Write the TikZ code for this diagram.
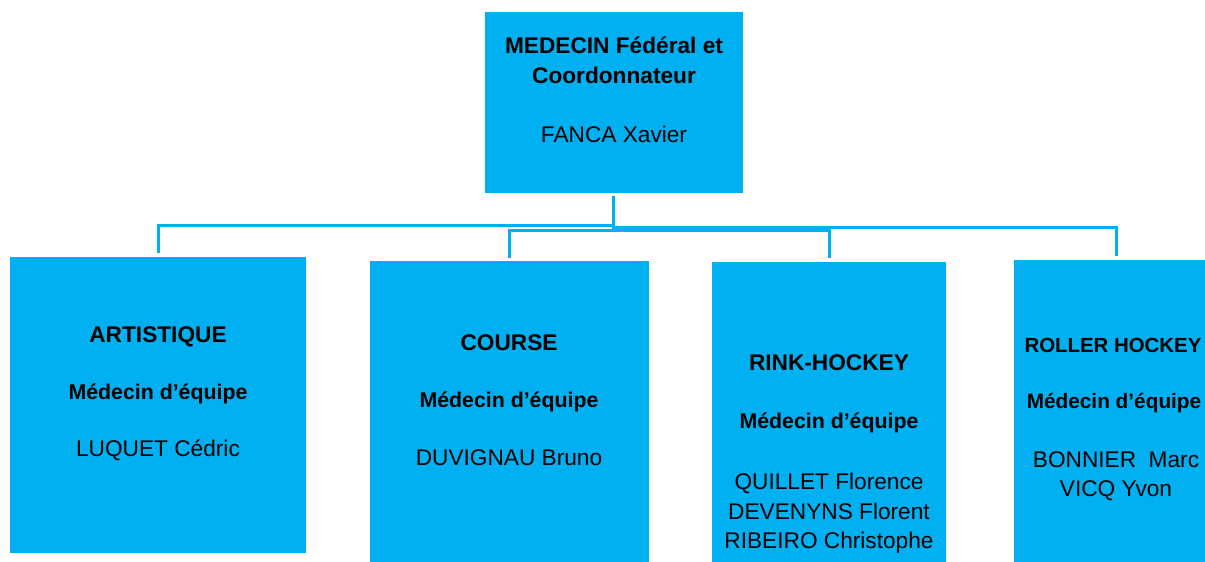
\documentclass[tikz,border=0pt]{standalone}
\usepackage{fontspec}
\setmainfont{Liberation Sans}
\definecolor{boxblue}{HTML}{00B0F0}
\begin{document}
\begin{tikzpicture}[x=0.75pt,y=-0.75pt,
  box/.style={fill=boxblue,draw=none,inner sep=0pt,outer sep=0pt},
  conn/.style={draw=boxblue,line width=2.25pt,shorten >=3pt},
  lbl/.style={anchor=base,inner sep=0pt,align=center,font=\fontsize{17}{20}\selectfont},
  blbl/.style={lbl,font=\fontsize{17}{20}\selectfont\bfseries},
  mlbl/.style={lbl,font=\fontsize{16}{19}\selectfont\bfseries}]
\useasboundingbox (0,0) rectangle (1205,561);
\clip (0,0) rectangle (1205,561);
\fill[white] (0,0) rectangle (1205,561);
% boxes
\node[box,minimum width=258*0.75pt,minimum height=181*0.75pt] (top) at (614,102.5) {};
\node[box,minimum width=296*0.75pt,minimum height=296*0.75pt] (art) at (158,405) {};
\node[box,minimum width=279*0.75pt,minimum height=339*0.75pt] (course) at (509.5,430.5) {};
\node[box,minimum width=234*0.75pt,minimum height=338*0.75pt] (rink) at (829,431) {};
\node[box,minimum width=226*0.75pt,minimum height=340*0.75pt] (roller) at (1127,430) {};
% junction coordinates
\coordinate (h1) at (613,225);
\coordinate (h2) at (613,230);
\coordinate (h3) at (613,227);
% connectors
\draw[conn,shorten >=0pt] ([yshift=-2pt]top.south -| h1) -- (h2);
\draw[conn] (h1) -- (h1 -| art.north) -- (art.north);
\draw[conn] (course.north) ++(0,-3) -- (course.north |- h2) -- (rink.north |- h2) -- (rink.north);
\draw[conn] (h3) -- (h3 -| 1116,0) -- (1116,260);
% texts top
\node[blbl] (t1) at (614,53) {MEDECIN Fédéral et};
\node[blbl] (t2) at (614,83) {Coordonnateur};
\node[lbl] (t3) at (614,142) {FANCA Xavier};
% artistique
\node[blbl] (a1) at (158,342) {ARTISTIQUE};
\node[mlbl] (a2) at (158,399) {Médecin d’équipe};
\node[lbl] (a3) at (158,456) {LUQUET Cédric};
% course
\node[blbl] (c1) at (509,350) {COURSE};
\node[mlbl] (c2) at (509,407) {Médecin d’équipe};
\node[lbl] (c3) at (509,465) {DUVIGNAU Bruno};
% rink
\node[blbl] (r1) at (829,370) {RINK-HOCKEY};
\node[mlbl] (r2) at (829,428) {Médecin d’équipe};
\node[lbl] (r3) at (829,489) {QUILLET Florence};
\node[lbl] (r4) at (829,519) {DEVENYNS Florent};
\node[lbl] (r5) at (829,548) {RIBEIRO Christophe};
% roller
\node[blbl,font=\fontsize{15.3}{18}\selectfont\bfseries] (o1) at (1113,352) {ROLLER HOCKEY};
\node[mlbl,font=\fontsize{15.6}{18}\selectfont\bfseries] (o2) at (1114,408) {Médecin d’équipe};
\node[lbl] (o3) at (1116,467) {BONNIER\ \ Marc};
\node[lbl] (o4) at (1116,496) {VICQ Yvon};
\end{tikzpicture}
\end{document}
